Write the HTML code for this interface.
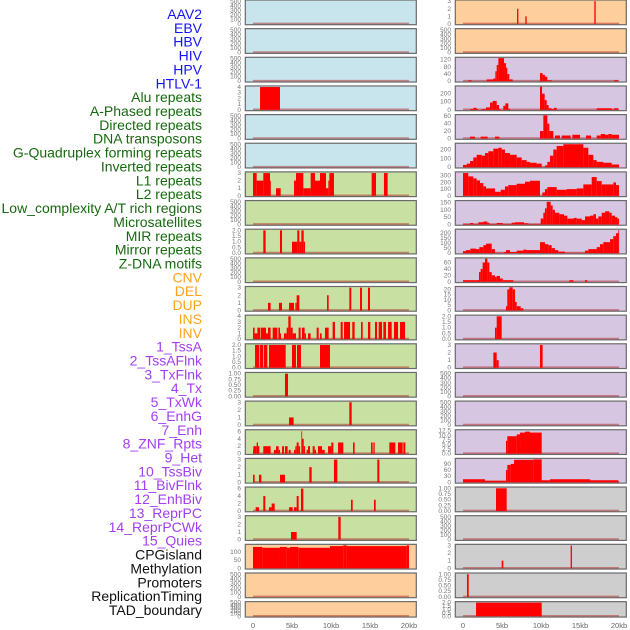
<!DOCTYPE html>
<html><head><meta charset="utf-8"><style>
html,body{margin:0;padding:0;background:#fff;width:630px;height:630px;overflow:hidden}
svg{display:block;font-family:"Liberation Sans",sans-serif}
</style></head><body>
<svg id="chart" width="630" height="630" viewBox="0 0 630 630" xmlns="http://www.w3.org/2000/svg">
<g id="labels"></g>
<g id="panels"></g>
<g id="xaxes"></g>
</svg>
<script>
// ---- data ----
const trackNames = ["AAV2","EBV","HBV","HIV","HPV","HTLV-1","Alu repeats","A-Phased repeats","Directed repeats","DNA transposons","G-Quadruplex forming repeats","Inverted repeats","L1 repeats","L2 repeats","Low_complexity A/T rich regions","Microsatellites","MIR repeats","Mirror repeats","Z-DNA motifs","CNV","DEL","DUP","INS","INV","1_TssA","2_TssAFlnk","3_TxFlnk","4_Tx","5_TxWk","6_EnhG","7_Enh","8_ZNF_Rpts","9_Het","10_TssBiv","11_BivFlnk","12_EnhBiv","13_ReprPC","14_ReprPCWk","15_Quies","CPGisland","Methylation","Promoters","ReplicationTiming","TAD_boundary"];
const trackGroups = [6,13,5,15,5];
const groupColors = ["#1515f0","#17690f","#ffa31a","#a23ff2","#111111"];
const xTickValues = [0,5,10,15,20];
const xTickLabels = ["0","5kb","10kb","15kb","20kb"];

const T500 = [0,100,200,300,400,500];
const E = [];
// left column segments [startKb,endKb,value]
const segL4 = [[0.9,3.46,4]];
const segL7 = [[0,0.47,3],[0.47,1.32,2],[1.32,2.18,3],[2.18,2.26,2],[2.95,3.55,1],[5.26,5.51,2],[5.51,6.45,3],[6.45,7.39,1],[7.39,7.95,3],[7.95,8.59,2],[8.59,9.36,3],[9.36,9.66,1],[9.66,9.79,2],[9.79,10.38,3],[15.21,15.77,3],[16.79,17.26,3]];
const segL9 = [[1.32,1.62,2],[3.46,3.72,2],[5.0,5.68,1],[5.68,5.94,2],[5.94,6.2,1],[6.2,6.5,2],[6.5,6.67,1]];
const segL11 = [[1.92,2.26,1],[3.33,3.72,1],[4.62,5.26,1],[5.43,5.6,1],[5.6,5.94,2],[9.49,9.7,2],[12.35,12.6,3],[13.72,13.97,3],[14.74,15.0,3]];
const segL12 = [[0,0.21,2],[0.21,0.56,1],[0.56,0.9,2],[0.98,1.67,2],[1.67,1.92,1],[1.92,2.26,2],[2.52,3.12,2],[3.25,3.46,2],[3.46,3.59,1],[3.97,4.32,1],[4.32,4.53,2],[4.53,4.83,4],[4.83,5.09,2],[5.09,5.51,1],[5.85,6.11,2],[6.28,6.62,2],[6.62,6.79,1],[7.05,7.39,1],[8.16,8.42,2],[8.59,8.8,1],[9.23,9.7,2],[10.21,10.51,3],[11.24,11.5,3],[11.67,12.44,3],[12.73,13.03,3],[13.85,14.06,3],[14.74,15.04,3],[15.64,15.9,3],[16.11,16.54,3],[16.71,17.05,3],[17.31,17.78,3],[18.08,18.59,3],[18.85,19.49,3]];
const segL13 = [[0.26,0.81,2],[0.9,1.32,2],[1.41,1.84,2],[2.05,4.19,2],[5.0,5.51,2],[5.64,6.15,2],[8.59,9.87,2]];
const segL14 = [[4.1,4.49,1]];
const segL15 = [[4.62,5.21,1],[12.35,12.65,3]];
const segL16 = [[0,0.04,1],[0.04,0.47,2],[0.47,0.64,3],[0.64,0.81,2],[1.32,2.26,2],[2.69,2.95,1],[2.95,3.29,2],[3.29,3.46,1],[3.72,3.97,2],[4.1,4.44,2],[4.57,4.83,1],[5.26,5.43,1],[5.43,5.6,2],[5.6,5.85,3],[5.85,6.03,2],[6.2,6.28,6],[6.28,6.5,4],[6.5,6.67,2],[6.88,7.05,1],[7.05,7.31,2],[7.65,7.91,2],[7.91,8.08,1],[8.33,8.85,2],[8.85,9.19,1],[9.62,10.04,2],[10.04,10.3,3],[10.9,11.58,3],[12.82,13.03,3],[15.13,15.34,3],[15.43,15.6,3],[17.48,17.82,3],[17.82,18.25,3],[18.59,19.19,3],[19.27,19.53,3]];
const segL17 = [[0,0.21,1],[0.77,1.07,1],[3.46,4.1,1],[7.22,7.52,2],[10.38,10.81,3],[15.94,16.2,3]];
const segL18 = [[0.34,0.77,1],[1.32,1.58,4],[2.05,2.39,1],[2.39,2.78,2],[4.62,5.09,1],[5.26,5.6,1],[5.6,5.85,4],[6.15,6.45,6],[12.56,12.78,3],[15.51,15.73,3]];
const segL19 = [[4.87,5.6,1],[10.94,11.24,3]];
const segL20 = [[0,1.2,130],[1.2,3.46,125],[3.46,4.32,130],[4.32,4.74,125],[4.74,5.81,130],[5.81,9.87,125],[9.87,11.58,135],[11.58,12.01,140],[12.01,19.7,135],[19.7,20,140]];
// right column
const segR1 = [[6.93,7.1,2],[7.99,8.16,1],[16.84,17.01,3]];
const segR3 = [[0.68,1.11,5],[3.03,3.89,10],[3.89,4.15,15],[4.15,4.32,55],[4.32,4.53,90],[4.53,5.26,128],[5.26,5.51,100],[5.51,5.68,75],[5.68,5.94,40],[5.94,6.37,10],[9.87,10.21,45],[10.21,10.51,35],[10.51,10.81,25],[10.81,11.37,5],[19.36,19.91,5]];
const segR4 = [[0.9,1.32,10],[1.32,1.75,25],[1.75,1.97,10],[2.39,2.95,10],[2.95,3.46,30],[3.46,3.8,90],[3.8,4.32,110],[4.32,4.62,60],[4.62,4.83,10],[5.17,5.43,50],[5.43,5.81,80],[5.81,6.03,15],[9.87,10.13,285],[10.13,10.47,200],[10.47,10.73,120],[10.73,10.98,60],[10.98,11.37,20],[11.37,11.67,10],[11.67,12.01,25],[17.14,19.06,20],[19.06,19.27,10],[19.36,19.91,20]];
const segR5 = [[0.9,1.54,5],[2.26,3.16,5],[4.1,4.66,5],[9.87,10.3,20],[10.3,10.81,62],[10.81,11.07,40],[11.07,11.58,20],[11.79,12.44,8],[12.65,13.8,8],[14.02,15.0,10],[15.77,16.41,8],[17.14,17.65,8],[17.65,18.21,12],[18.21,18.63,10],[18.63,19.06,12],[19.06,20,10]];
const edgesR6 = [0,0.47,0.9,1.32,1.75,2.39,2.82,3.25,3.89,4.53,4.96,5.38,6.03,6.88,7.52,8.16,8.59,9.44,10.09,10.51,10.81,11.15,11.58,12.01,12.86,15.43,16.07,16.71,17.14,17.99,19.06,20];
const valsR6 = [25,40,70,110,140,130,160,180,210,220,200,160,140,110,80,60,50,40,0,20,60,130,200,240,260,220,140,80,60,50,30];
const edgesR7 = [0,0.68,1.32,1.75,2.18,2.61,2.95,4.1,4.83,5.38,5.81,6.88,7.95,8.59,9.87,10.17,10.51,10.81,12.01,13.29,14.57,15.43,16.5,17.14,17.78,18.21,19.27,19.62,20];
const valsR7 = [340,290,260,230,190,140,110,60,90,140,160,180,210,225,0,50,100,130,90,100,110,170,280,220,170,170,200,160];
const edgesR8 = [0,0.9,1.32,1.97,2.61,3.12,3.38,4.32,5.09,6.24,6.67,7.82,8.38,9.96,10.3,10.51,10.73,11.24,11.5,11.79,12.35,12.95,13.38,14.23,14.57,15.21,15.64,16.28,16.71,17.05,17.35,17.78,18.21,18.76,19.06,19.49,19.79,20];
const valsR8 = [3,10,3,15,20,12,3,10,3,12,15,8,3,40,80,110,155,130,100,80,70,60,40,45,40,30,55,60,70,40,55,80,90,80,60,50,40];
const edgesR9 = [0,0.38,0.94,1.67,2.09,2.61,2.95,3.68,4.1,5.26,5.51,6.03,6.88,7.74,8.16,9.87,10.51,10.94,11.37,11.79,12.22,13.08,15.64,16.07,17.14,17.56,17.99,18.85,19.27,19.62,19.91,20];
const valsR9 = [20,30,45,40,60,80,95,40,3,10,30,10,25,35,30,110,90,80,50,30,15,3,25,40,60,90,110,140,170,200,230];
const segR10 = [[0,2.05,5],[2.05,2.26,30],[2.26,2.52,40],[2.52,2.82,60],[2.82,3.12,72],[3.12,3.38,60],[3.38,3.68,30],[3.68,4.1,20],[4.1,4.32,15],[4.32,4.74,18],[4.74,5.09,10],[5.09,6.45,5],[13.63,14.15,5],[15.64,15.94,5]];
const segR11 = [[5.51,5.68,4],[5.68,5.94,20],[5.94,6.37,22],[6.37,6.67,20],[6.67,6.88,8],[6.88,7.39,4],[7.39,7.74,2]];
const segR12 = [[4.1,4.32,1],[4.32,4.96,2]];
const segR13 = [[3.89,4.32,2],[4.32,4.57,1],[9.87,10.21,3]];
const segR16 = [[5.51,5.68,7],[5.68,6.88,9.5],[6.88,7.31,10.5],[7.31,7.95,11.5],[7.95,8.59,12],[8.59,10.09,11.5]];
const segR17 = [[0,2.82,15],[2.82,5.51,8],[5.51,5.68,60],[5.68,6.11,85],[6.11,6.54,90],[6.54,9.02,110],[9.02,10.09,112],[10.09,11.15,10],[11.15,16.28,15],[16.28,19.91,10],[19.91,20,5]];
const segR18 = [[4.23,5.6,1]];
const segR20 = [[4.96,5.17,1],[13.8,13.97,3]];
const segR21 = [[0.51,0.73,1]];
const segR22 = [[1.67,10.09,2]];

function steps(edges, vals){ const s=[]; for(let i=0;i<vals.length;i++) s.push([edges[i],edges[i+1],vals[i]]); return s; }

const tk3=[0,1,2,3], tk2=[0,0.5,1,1.5,2], tk1=[0,0.25,0.5,0.75,1], tk6=[0,2,4,6];
const BLUE="#c8e4ec", GREEN="#c8e0a2", ORANGE="#fecf9c", PURPLE="#d6c6e2", GREY="#cecece";
const leftTracks = [
 [BLUE,510,T500,E],[BLUE,510,T500,E],[BLUE,510,T500,E],[BLUE,4.05,[0,1,2,3,4],segL4],[BLUE,510,T500,E],[BLUE,510,T500,E],
 [GREEN,3.05,tk3,segL7],[GREEN,510,T500,E],[GREEN,2.03,tk2,segL9],[GREEN,510,T500,E],[GREEN,3.05,tk3,segL11],[GREEN,4.05,[0,1,2,3,4],segL12],
 [GREEN,2.03,tk2,segL13],[GREEN,1.02,tk1,segL14],[GREEN,3.05,tk3,segL15],[GREEN,6.2,tk6,segL16],[GREEN,3.05,tk3,segL17],[GREEN,6.2,tk6,segL18],[GREEN,3.05,tk3,segL19],
 [ORANGE,141,[0,50,100],segL20],[ORANGE,510,T500,E],[ORANGE,510,T500,E]
];
const rightTracks = [
 [ORANGE,3.05,tk3,segR1],[ORANGE,510,T500,E],
 [PURPLE,128,[0,40,80,120],segR3],[PURPLE,285,[0,100,200],segR4],[PURPLE,62,[0,20,40,60],segR5],[PURPLE,262,[0,100,200],steps(edgesR6,valsR6)],
 [PURPLE,345,[0,100,200,300],steps(edgesR7,valsR7)],[PURPLE,158,[0,50,100,150],steps(edgesR8,valsR8)],[PURPLE,232,[0,50,100,150,200],steps(edgesR9,valsR9)],
 [PURPLE,72,[0,20,40,60],segR10],[PURPLE,22,[0,5,10,15,20],segR11],[PURPLE,2.03,tk2,segR12],[PURPLE,3.05,tk3,segR13],[PURPLE,510,T500,E],[PURPLE,510,T500,E],
 [PURPLE,12.6,[0,2.5,5,7.5,10,12.5],segR16],[PURPLE,113,[0,30,60,90],segR17],
 [GREY,1.02,tk1,segR18],[GREY,510,T500,E],[GREY,3.05,tk3,segR20],[GREY,1.02,tk1,segR21],[GREY,2.03,tk2,segR22]
];

// ---- render ----
const NS="http://www.w3.org/2000/svg";
function mk(tag, attrs, parent){ const e=document.createElementNS(NS,tag); for(const k in attrs) e.setAttribute(k,attrs[k]); parent.appendChild(e); return e; }
function fmt(t, ticks){
  const step = ticks.length>1 ? ticks[1]-ticks[0] : 1;
  if (step===0.25) return t.toFixed(2);
  if (step%1!==0 || ticks.some(v=>v%1!==0)) return t.toFixed(1);
  return String(t);
}
const labels=document.getElementById('labels');
let gi=0, cnt=0;
trackNames.forEach((n,i)=>{
  while(cnt>=trackGroups[gi]){cnt-=trackGroups[gi];gi++;}
  cnt++;
  const t=mk('text',{x:202,y:(19+i*13.86).toFixed(1),'text-anchor':'end','font-size':'14',fill:groupColors[gi]},labels);
  
  
  t.textContent=n;
});
const panels=document.getElementById('panels');
function drawColumn(tracks, px0, x0kb, tickX, colName){
  tracks.forEach((tr,i)=>{
    const [bg,ymax,ticks,segs]=tr;
    const top=i*28.65, h=(i===21)?15.4:24.7;
    const g=mk('g',{},panels);
    
    
    mk('rect',{x:px0,y:top.toFixed(2),width:171,height:h,fill:bg,stroke:'#6a6a6a','stroke-width':1.2},g);
    const yb=top+h-0.8, yr=h-1.6;
    const yv=v=>yb - v/ymax*yr;
    const xv=k=>x0kb + k*7.8;
    ticks.forEach(t=>{
      const tl=mk('text',{x:tickX,y:(yv(t)+2).toFixed(2),'text-anchor':'end','font-size':'6.5',fill:'#777'},g);
      
      
      tl.textContent=fmt(t,ticks);
    });
    mk('line',{x1:xv(0),x2:xv(20),y1:yb-0.5,y2:yb-0.5,stroke:'rgba(170,20,20,0.45)','stroke-width':1.6},g);
    segs.forEach(s=>{
      const y=yv(s[2]);
      const r=mk('rect',{x:xv(s[0]).toFixed(2),y:y.toFixed(2),width:Math.max(0.8,(s[1]-s[0])*7.8).toFixed(2),height:(yb-y).toFixed(2),fill:'#ff0000'},g);
      
      
    });
  });
}
drawColumn(leftTracks,245.3,253,241,'left');
drawColumn(rightTracks,455.3,463,451,'right');
const xaxes=document.getElementById('xaxes');
[253,463].forEach(x0=>{
  xTickValues.forEach((v,j)=>{
    const t=mk('text',{x:x0+v*7.8,y:628,'text-anchor':'middle','font-size':'7.5',fill:'#666'},xaxes);
    
    
    t.textContent=xTickLabels[j];
  });
});
</script>
</body></html>
